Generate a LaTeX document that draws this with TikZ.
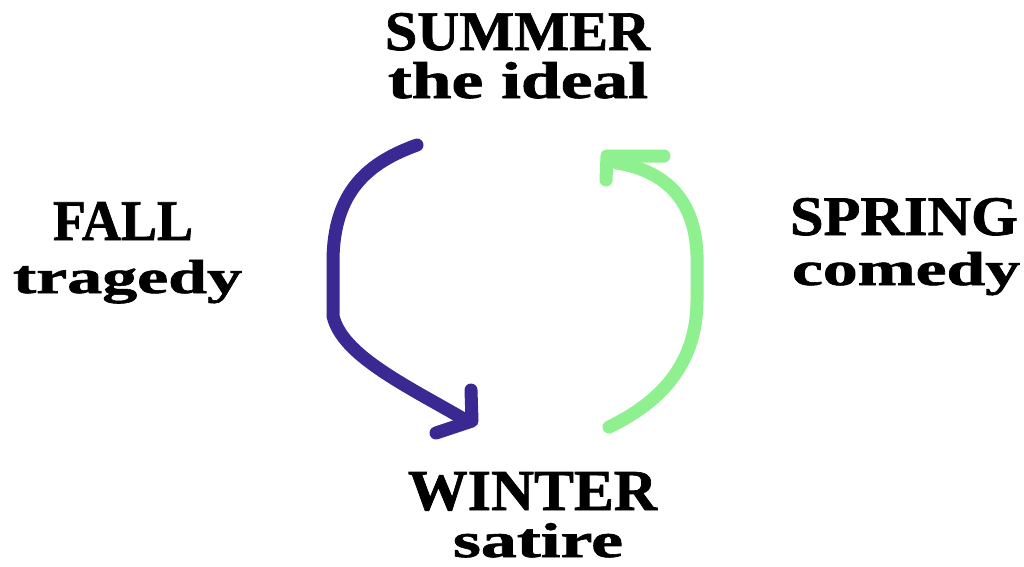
\documentclass[tikz,border=0pt]{standalone}
\usepackage{fontspec}
\setmainfont{Liberation Serif}[BoldFeatures={FakeBold=1.2}]
\usepackage{graphicx}
\definecolor{fallblue}{HTML}{3A2893}
\definecolor{springgreen}{HTML}{8EF08E}
\newcommand{\fitline}[3]{\resizebox{#1pt}{#2pt}{\bfseries #3}}
\tikzset{
  lbl/.style={inner sep=0pt, outer sep=0pt, anchor=base, text=black},
  stroke/.style={line width=13pt, line cap=round, line join=round},
  bluestroke/.style={stroke, draw=fallblue},
  greenstroke/.style={stroke, draw=springgreen}
}
\begin{document}
\begin{tikzpicture}[x=1pt,y=-1pt]
\useasboundingbox (0,0) rectangle (1024,566);
\fill[white] (0,0) rectangle (1024,566);
% labels
\node[lbl] (summer) at (517.5,50) {\fitline{265}{37}{SUMMER}};
\node[lbl] (ideal) at (518,98) {\fitline{260}{36}{the ideal}};
\node[lbl] (fall) at (123,240) {\fitline{140}{38}{FALL}};
\node[lbl] (tragedy) at (127.5,293) {\fitline{229}{33}{tragedy}};
\node[lbl] (spring) at (904,235) {\fitline{228}{37}{SPRING}};
\node[lbl] (comedy) at (906,285) {\fitline{228}{33}{comedy}};
\node[lbl] (winter) at (532.5,510) {\fitline{249}{38}{WINTER}};
\node[lbl] (satire) at (538,557) {\fitline{170}{34}{satire}};
% blue arrow (summer -> winter)
\coordinate (b0) at (417,145);
\coordinate (b1) at (333,262);
\coordinate (b2) at (333,316);
\coordinate (b3) at (462,418);
\coordinate (bh0) at (471,390);
\coordinate (bh1) at (472,421);
\coordinate (bh2) at (436,433);
\draw[bluestroke] (b0) .. controls (370,162) and (333,190) .. (b1) -- (b2)
  .. controls (342,355) and (405,385) .. (b3);
\draw[bluestroke] (bh0) -- (bh1) -- (bh2);
% green arrow (winter -> summer)
\coordinate (g0) at (609,427);
\coordinate (g1) at (697,300);
\coordinate (g2) at (697,255);
\coordinate (g3) at (617,163);
\coordinate (gh0) at (664,156);
\coordinate (gh1) at (607,156);
\coordinate (gh2) at (606,180);
\draw[greenstroke] (g0) .. controls (665,400) and (697,360) .. (g1) -- (g2)
  .. controls (695,195) and (660,170) .. (g3);
\draw[greenstroke] (gh0) -- (gh1) -- (gh2);
\end{tikzpicture}
\end{document}
